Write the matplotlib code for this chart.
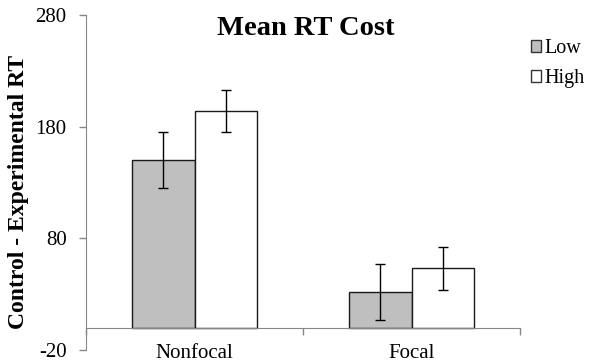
import numpy as np
import matplotlib
matplotlib.use("Agg")
import matplotlib.pyplot as plt
from matplotlib.patches import Patch

plt.rcParams['font.family'] = ['Liberation Serif', 'DejaVu Serif']
plt.rcParams['axes.unicode_minus'] = False

# mean RT cost per condition, with error bar half-widths
conditions = ["Nonfocal", "Focal"]
groups = ["Low", "High"]
low_means = [150, 32]
high_means = [194, 53]
low_err = [25, 25]
high_err = [19, 19]

y_ticks = [-20, 80, 180, 280]

fig = plt.figure(figsize=(5.9, 3.64), dpi=100)
ax = fig.add_axes([0.1458, 0.0385, 0.7356, 0.9203])

x = np.arange(len(conditions))
w = 0.286
ekw = dict(ecolor="black", elinewidth=1.0, capsize=3.5, capthick=1.0)
ax.bar(x - w / 2, low_means, w, yerr=low_err, color="#bfbfbf",
       edgecolor="#1a1a1a", linewidth=1.0, error_kw=ekw, label=groups[0])
ax.bar(x + w / 2, high_means, w, yerr=high_err, color="white",
       edgecolor="#1a1a1a", linewidth=1.0, error_kw=ekw, label=groups[1])

ax.set_xlim(-0.5, len(conditions) - 0.5)
ax.set_ylim(-20, 280)
ax.set_yticks(y_ticks)
ax.tick_params(axis="y", length=5, width=1, color="#868686", labelsize=15, pad=9)

# category axis drawn at zero, ticks between groups
for s in ["top", "right"]:
    ax.spines[s].set_visible(False)
ax.spines["left"].set_color("#868686")
ax.spines["bottom"].set_position(("data", 0))
ax.spines["bottom"].set_color("#868686")
ax.set_xticks(x)
ax.set_xticklabels(conditions)
ax.set_xticks(np.arange(-0.5, len(conditions)), minor=True)
ax.tick_params(axis="x", which="major", length=0, labelsize=15, pad=12)
ax.tick_params(axis="x", which="minor", length=5, width=1, color="#868686")

fig.text(0.032, 0.474, "Control - Experimental RT", rotation=90, ha="center",
         va="center", fontsize=17, fontweight="bold")
fig.text(0.518, 0.922, "Mean RT Cost", ha="center", va="center",
         fontsize=20.5, fontweight="bold")

handles = [Patch(facecolor="#bfbfbf", edgecolor="#333333", label=groups[0]),
           Patch(facecolor="white", edgecolor="#333333", label=groups[1])]
fig.legend(handles=handles, loc="upper left", bbox_to_anchor=(0.9, 0.892),
           frameon=False, fontsize=14.5, handlelength=0.5, handleheight=0.5,
           handletextpad=0.15, labelspacing=0.55, borderpad=0,
           borderaxespad=0)

fig.savefig("out.png", dpi=100)
